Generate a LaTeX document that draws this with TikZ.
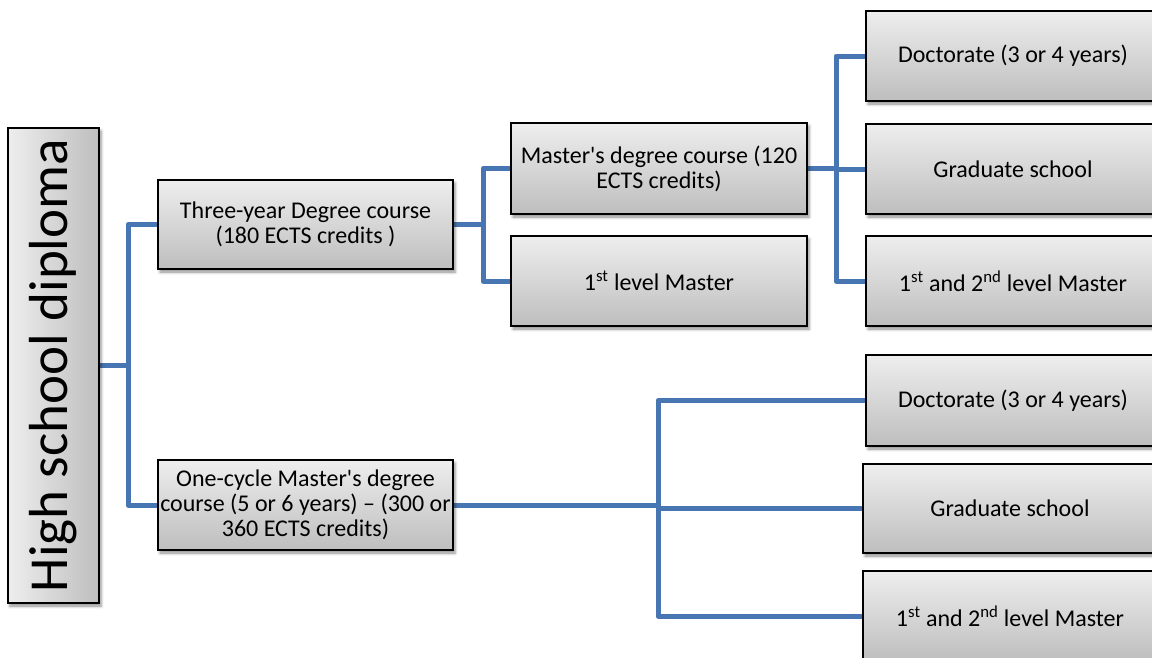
\documentclass[tikz,border=0pt]{standalone}
\usepackage{fontspec}
\newfontfamily\carl{Carlito}
\usepackage{graphicx}
\usetikzlibrary{shadows.blur,backgrounds}
\definecolor{conncol}{RGB}{72,118,178}
\definecolor{boxtop}{RGB}{238,238,238}
\definecolor{boxbot}{RGB}{190,190,190}
\tikzset{
  box/.style={draw=black, line width=1.5pt, rectangle, align=center,
    top color=boxtop, bottom color=boxbot,
    blur shadow={shadow xshift=2pt, shadow yshift=-3pt, shadow blur radius=3pt, shadow opacity=45},
    font=\carl\fontsize{24}{25}\selectfont, inner sep=2pt},
  hbox/.style={box, minimum width=296pt, minimum height=90pt},
  rbox/.style={box, minimum width=294pt, minimum height=90pt},
  conn/.style={draw=conncol, line width=5pt, line join=round, line cap=round}
}
\begin{document}
\begin{tikzpicture}[x=1pt,y=-1pt]
\useasboundingbox (0,0) rectangle (1152,657);
% level 0
\node[box, minimum width=91pt, minimum height=475pt, left color=boxtop, right color=boxbot,
  font=\carl\fontsize{55}{60}\selectfont] (hsd) at (53.5,365.5) {\rotatebox{90}{High school diploma}};
% level 1
\node[hbox, minimum width=295pt, minimum height=89pt] (three) at (305.5,224.5) {Three-year Degree course\\(180 ECTS credits )};
\node[hbox, minimum width=295pt] (one) at (305.5,505) {One-cycle Master's degree\\course (5 or 6 years) – (300 or\\360 ECTS credits)};
% level 2
\node[hbox, minimum height=91pt] (mdc) at (659,168.5) {Master's degree course (120\\ECTS credits)};
\node[hbox] (flm) at (659,281) {1\textsuperscript{st} level Master};
% level 3 top
\node[rbox] (doc1) at (1013,56) {Doctorate (3 or 4 years)};
\node[rbox] (grad1) at (1013,169) {Graduate school};
\node[rbox] (fs1) at (1013,281) {1\textsuperscript{st} and 2\textsuperscript{nd} level Master};
% level 3 bottom
\node[rbox, minimum height=91pt] (doc2) at (1013,400.5) {Doctorate (3 or 4 years)};
\node[rbox, minimum height=89pt] (grad2) at (1010,508.5) {Graduate school};
\node[rbox] (fs2) at (1010,616) {1\textsuperscript{st} and 2\textsuperscript{nd} level Master};
% junctions
\coordinate (j0) at (128,365.5);
\coordinate (j1) at (483,224.5);
\coordinate (j2) at (836,168.5);
\coordinate (j3) at (658,505);
\begin{pgfonlayer}{background}
\draw[conn] (hsd.east) -- (j0);
\draw[conn] (j0) |- (three.west);
\draw[conn] (j0) |- (one.west);
\draw[conn] (three.east) -- (j1);
\draw[conn] (j1) |- (mdc.west);
\draw[conn] (j1) |- (flm.west);
\draw[conn] (mdc.east) -- (j2);
\draw[conn] (j2) |- (doc1.west);
\draw[conn] (j2) |- (grad1.west);
\draw[conn] (j2) |- (fs1.west);
\draw[conn] (one.east) -- (j3);
\draw[conn] (j3) |- (doc2.west);
\draw[conn] (j3) |- (grad2.west);
\draw[conn] (j3) |- (fs2.west);
\end{pgfonlayer}
\end{tikzpicture}
\end{document}
